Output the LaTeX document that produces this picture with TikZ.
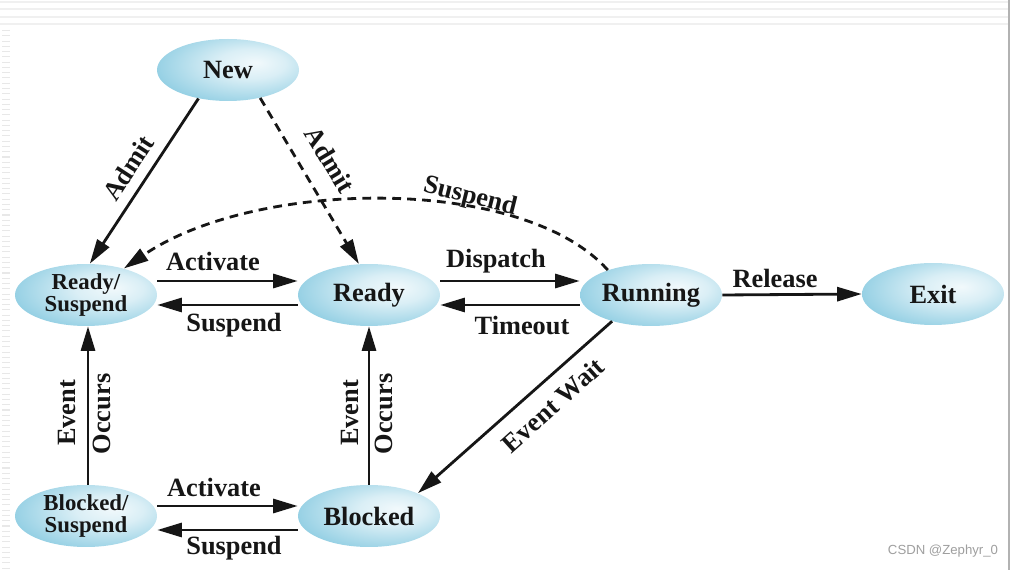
\documentclass[tikz,border=0pt]{standalone}
\usepackage{fontspec}
\setmainfont{Liberation Serif}
\newfontfamily\wmfont{Liberation Sans}
\usetikzlibrary{arrows.meta,shapes.geometric}
\definecolor{nodeblue}{RGB}{86,180,212}
\definecolor{ink}{RGB}{22,22,22}
\pgfdeclareradialshading{stateshade}{\pgfpoint{10bp}{6bp}}{color(0bp)=(white!92!nodeblue); color(12bp)=(white!78!nodeblue); color(30bp)=(white!40!nodeblue); color(46bp)=(nodeblue); color(70bp)=(nodeblue)}
\begin{document}
\begin{tikzpicture}[x=0.02cm,y=-0.02cm,
  state/.style={ellipse, minimum width=2.84cm, minimum height=1.24cm, inner sep=0pt,
    shade, shading=stateshade, text=ink, align=center,
    font=\fontsize{15}{15}\selectfont\bfseries},
  twoline/.style={font=\fontsize{13}{12.5}\selectfont\bfseries},
  lbl/.style={font=\fontsize{15}{15}\selectfont\bfseries, text=ink, inner sep=1pt},
  edge/.style={line width=1.6pt, draw=ink, -{Triangle[length=14pt,width=8pt]}},
  dashededge/.style={edge, dash pattern=on 5pt off 3.5pt},
  bgline/.style={draw=gray!12, line width=1.2pt}]
% canvas
\useasboundingbox (0,0) rectangle (1011,570);
\fill[white] (0,0) rectangle (1011,570);
\draw[bgline] (0,2) -- (1008,2);
\draw[bgline] (0,9) -- (1008,9);
\draw[bgline] (0,17) -- (1008,17);
\draw[bgline] (0,24) -- (1008,24);
\draw[gray!18, line width=0.16cm, dash pattern=on 0.6pt off 2.4pt] (6,30) -- (6,570);
\draw[gray!60, line width=0.6pt] (1009,0) -- (1009,570);
% states
\node[state] (new) at (228,70) {New};
\node[state,twoline] (rs) at (86,295) {Ready/\\Suspend};
\node[state] (ready) at (369,295) {Ready};
\node[state] (run) at (651,295) {Running};
\node[state] (exit) at (933,294) {Exit};
\node[state,twoline] (bs) at (86,516) {Blocked/\\Suspend};
\node[state] (blk) at (369,516) {Blocked};
% transitions
\draw[edge] (new.224) -- (rs.83);
\draw[dashededge] (new.319) -- (ready.108);
\draw[dashededge] (run.150) .. controls +(-85,-95) and +(132,-90) .. (rs.35);
\draw[edge] ([yshift=0.28cm]rs.east) -- ([yshift=0.28cm]ready.west);
\draw[edge] ([yshift=-0.2cm]ready.west) -- ([yshift=-0.2cm]rs.east);
\draw[edge] ([yshift=0.28cm]ready.east) -- ([yshift=0.28cm]run.west);
\draw[edge] ([yshift=-0.2cm]run.west) -- ([yshift=-0.2cm]ready.east);
\draw[edge] (run.east) -- (exit.west);
\draw[edge] (run.214) -- (blk.25);
\draw[edge] ([xshift=0.04cm]bs.north) -- ([xshift=0.04cm]rs.south);
\draw[edge] (blk.north) -- (ready.south);
\draw[edge] ([yshift=0.2cm]bs.east) -- ([yshift=0.2cm]blk.west);
\draw[edge] ([yshift=-0.28cm]blk.west) -- ([yshift=-0.28cm]bs.east);
% labels
\node[lbl, rotate=57] (l1) at (128,168) {Admit};
\node[lbl, rotate=-59] (l2) at (330,160) {Admit};
\node[lbl, rotate=-14] (l3) at (470,197) {Suspend};
\node[lbl] (l4) at (213,261) {Activate};
\node[lbl] (l5) at (234,325) {Suspend};
\node[lbl] (l6) at (496,261) {Dispatch};
\node[lbl] (l7) at (522,326) {Timeout};
\node[lbl] (l8) at (775,278) {Release};
\node[lbl, rotate=42] (l9) at (553,405) {Event Wait};
\node[lbl] (l10) at (214,487) {Activate};
\node[lbl] (l11) at (234,548) {Suspend};
\node[lbl, rotate=90] (l12) at (67,413) {Event};
\node[lbl, rotate=90] (l13) at (102,414) {Occurs};
\node[lbl, rotate=90] (l14) at (350,413) {Event};
\node[lbl, rotate=90] (l15) at (384,414) {Occurs};
% watermark
\node[font=\wmfont\fontsize{7.5}{8}\selectfont, text=gray!75] (wm) at (943,551) {CSDN @Zephyr\_0};
\end{tikzpicture}
\end{document}
